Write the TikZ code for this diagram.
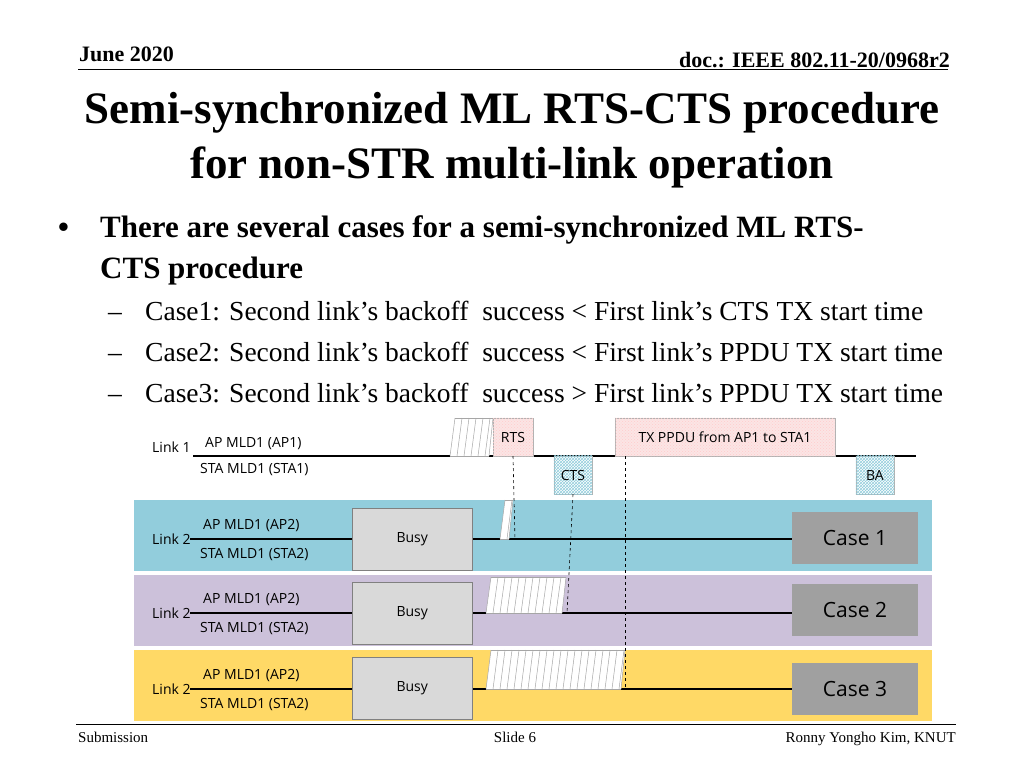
\documentclass[tikz,border=0pt]{standalone}
\usepackage{fontspec}
\setmainfont{Liberation Serif}
\newfontfamily\dg{Open Sans}
\usetikzlibrary{patterns}
\definecolor{cyanb}{HTML}{92CDDC}
\definecolor{lavb}{HTML}{CCC1DA}
\definecolor{yelb}{HTML}{FFD966}
\definecolor{pinkf}{HTML}{FBE5E5}
\definecolor{casef}{HTML}{A0A0A0}
\definecolor{busyf}{HTML}{D9D9D9}
\tikzset{x=1pt,y=-1pt,
 lbl/.style={font=\dg\fontsize{14}{16}\selectfont,inner sep=0pt},
 tline/.style={line width=2pt},
 busybox/.style={draw=gray,fill=busyf,font=\dg\fontsize{14}{16}\selectfont},
 casebox/.style={fill=casef,font=\dg\fontsize{21}{24}\selectfont},
 dsh/.style={dashed,line width=0.6pt},
}
\newcommand\bo[4]{% x1 x2 ytop ybot
 \pgfmathtruncatemacro\boA{#1}\pgfmathtruncatemacro\boB{#1+7}\pgfmathtruncatemacro\boC{#2-4}
 \fill[white] (#1+5,#3)--(#2,#3)--(#2-4,#4)--(#1,#4)--cycle;
 \draw[gray!70] (#1+5,#3)--(#2,#3) (#1,#4)--(#2-4,#4);
 \foreach \xx in {\boA,\boB,...,\boC}{\draw[gray!70,line width=0.5pt] (\xx+5,#3)--(\xx,#4);}
 \draw[gray!70,line width=0.5pt] (#2,#3)--(#2-4,#4);
}
\begin{document}
\begin{tikzpicture}
\useasboundingbox (0,0) rectangle (1024,768);
\fill[white] (0,0) rectangle (1024,768);
% header
\node[anchor=base west,inner sep=0pt,font=\bfseries\fontsize{22}{24}\selectfont] (hd) at (79,62) {June 2020};
\node[anchor=base east,inner sep=0pt,font=\bfseries\fontsize{22}{24}\selectfont] (doc) at (950,67) {doc.: IEEE 802.11-20/0968r2};
\draw[line width=0.8pt] (78,69) -- (948,69);
\node[anchor=base,inner sep=0pt,font=\bfseries\fontsize{45}{50}\selectfont] (t1) at (512,123) {Semi-synchronized ML RTS-CTS procedure};
\node[anchor=base,inner sep=0pt,font=\bfseries\fontsize{45}{50}\selectfont] (t2) at (512,178) {for non-STR multi-link operation};
\node[anchor=base west,inner sep=0pt,font=\bfseries\fontsize{31}{32}\selectfont] (b0) at (58,237) {\textbullet};
\node[anchor=base west,inner sep=0pt,font=\bfseries\fontsize{31}{32}\selectfont] (b1) at (100,237) {There are several cases for a semi-synchronized ML RTS-};
\node[anchor=base west,inner sep=0pt,font=\bfseries\fontsize{31}{32}\selectfont] (b1b) at (100,278) {CTS procedure};
\foreach \yy/\t in {320/{Case1: Second link’s backoff\ \ success < First link’s CTS TX start time},
                    361/{Case2: Second link’s backoff\ \ success < First link’s PPDU TX start time},
                    402/{Case3: Second link’s backoff\ \ success > First link’s PPDU TX start time}}{
 \node[anchor=base west,inner sep=0pt,font=\fontsize{27.5}{28}\selectfont] at (108,\yy) {--};
 \node[anchor=base west,inner sep=0pt,font=\fontsize{27.5}{28}\selectfont] at (145,\yy) {\t};
}
% Link1
\draw[tline] (193,456) -- (916,456);
\node[lbl,anchor=west] (l1) at (152,447) {Link 1};
\node[lbl,anchor=west] (ap1) at (205,444) {AP MLD1 (AP1)};
\node[lbl,anchor=west] (sta1) at (200,470) {STA MLD1 (STA1)};
\bo{450}{493}{418}{456}
\node[draw=gray!60,fill=pinkf,minimum width=40pt,minimum height=38pt,inner sep=0pt] (rts) at (513,437) {};
\fill[pattern=crosshatch dots,pattern color=red!20] (rts.south west) rectangle (rts.north east);
\node[lbl] at (rts.center) {RTS};
\node[draw=gray!60,fill=pinkf,minimum width=220pt,minimum height=38pt,inner sep=0pt] (tx) at (725,437) {};
\fill[pattern=crosshatch dots,pattern color=red!20] (tx.south west) rectangle (tx.north east);
\node[lbl] at (tx.center) {TX PPDU from AP1 to STA1};
\node[draw=gray!60,fill=white,minimum width=38pt,minimum height=38pt,inner sep=0pt] (cts) at (573,475) {};
\fill[pattern=crosshatch,pattern color=cyanb] (cts.south west) rectangle (cts.north east);
\node[lbl] at (cts.center) {CTS};
\node[draw=gray!60,fill=white,minimum width=38pt,minimum height=38pt,inner sep=0pt] (ba) at (875,475) {};
\fill[pattern=crosshatch,pattern color=cyanb] (ba.south west) rectangle (ba.north east);
\node[lbl] at (ba.center) {BA};
% bands
\fill[cyanb] (134,500) rectangle (932,571);
\fill[lavb] (134,575) rectangle (932,646);
\fill[yelb] (134,650) rectangle (932,721);
\foreach \n/\yl/\yb/\xa/\xb/\yt in {1/539/508/500/513/500,2/613/582/486/566/577,3/689/657/486/625/650}{
 \draw[tline] (190,\yl) -- (792,\yl);
 \node[lbl,anchor=west] at (152,\yl) {Link 2};
 \node[lbl,anchor=west] at (203,\yl-13) {AP MLD1 (AP2)};
 \node[lbl,anchor=west] at (200,\yl+16) {STA MLD1 (STA2)};
 \node[busybox,minimum width=120pt,minimum height=62pt,inner sep=0pt,anchor=north west] (busy\n) at (352,\yb) {Busy};
 \bo{\xa}{\xb}{\yt}{\yl}
}
\node[casebox,minimum width=126pt,minimum height=52pt] (c1) at (855,538) {Case 1};
\node[casebox,minimum width=126pt,minimum height=52pt] (c2) at (855,610) {Case 2};
\node[casebox,minimum width=126pt,minimum height=52pt] (c3) at (855,689) {Case 3};
% dashed
\draw[dsh] (rts.south) -- (515,540);
\draw[dsh] (cts.south) -- (567,613);
\draw[dsh] (625,456) -- (625,689);
% footer
\draw[line width=0.8pt] (76,724) -- (956,724);
\node[anchor=base west,inner sep=0pt,font=\fontsize{15}{18}\selectfont] (f1) at (78,742) {Submission};
\node[anchor=base,inner sep=0pt,font=\fontsize{15}{18}\selectfont] (f2) at (515,742) {Slide 6};
\node[anchor=base east,inner sep=0pt,font=\fontsize{15}{18}\selectfont] (f3) at (956,742) {Ronny Yongho Kim, KNUT};
\end{tikzpicture}
\end{document}
